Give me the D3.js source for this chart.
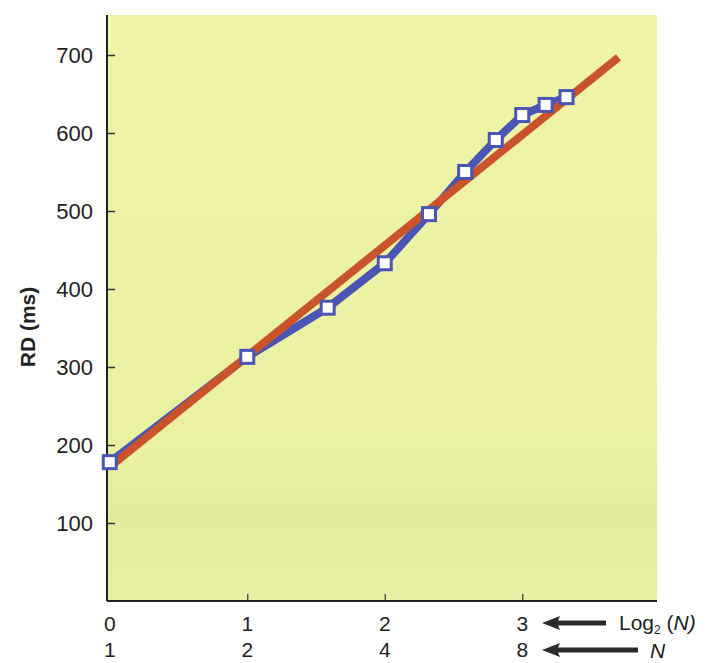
<!DOCTYPE html>
<html>
<head>
<meta charset="utf-8">
<script src="https://cdn.jsdelivr.net/npm/d3@7"></script>
<style>
  body { margin: 0; background: #fff; }
  text { font-family: "Liberation Sans", Arial, sans-serif; fill: #222; }
</style>
</head>
<body>
<svg id="chart" width="716" height="663"></svg>
<script>
// set sizes N and measured RD (ms)
const setSizes = [1, 2, 3, 4, 5, 6, 7, 8, 9, 10];
const rdValues = [178, 313, 376, 433, 496, 550, 591, 623, 636, 646];
// fitted line RD = a + b * log2(N), drawn between these log2 ends
const fitEnds = [0, 3.7];
const fitValues = [172, 697];
const logTicks = [0, 1, 2, 3];
const nTicks = [1, 2, 4, 8];
const yTicks = [100, 200, 300, 400, 500, 600, 700];

const svg = d3.select("#chart"),
    plotLeft = 107, plotRight = 657, plotTop = 15, plotBottom = 601;

const x = d3.scaleLinear().domain([-0.02, 3.98]).range([plotLeft, plotRight]);
const y = d3.scaleLinear().domain([0, 750]).range([plotBottom, plotTop + 1]);

// yellow panel
const grad = svg.append("defs").append("linearGradient")
    .attr("id", "bg").attr("x1", 0).attr("y1", 0).attr("x2", 0).attr("y2", 1);
grad.append("stop").attr("offset", "0%").attr("stop-color", "#eff4a8");
grad.append("stop").attr("offset", "75%").attr("stop-color", "#eaf0a2");
grad.append("stop").attr("offset", "85%").attr("stop-color", "#e4eb9c");
grad.append("stop").attr("offset", "100%").attr("stop-color", "#e9efa3");

svg.append("rect")
    .attr("x", plotLeft).attr("y", plotTop)
    .attr("width", plotRight - plotLeft).attr("height", plotBottom - plotTop)
    .attr("fill", "url(#bg)");

// axes
const yAxis = svg.append("g")
    .attr("transform", "translate(" + plotLeft + ",0)")
    .call(d3.axisRight(y).tickValues(yTicks).tickSize(8).tickFormat(""));
yAxis.select(".domain").remove();
yAxis.selectAll("line").attr("stroke", "#333").attr("stroke-width", 1.5);

svg.append("line")
    .attr("x1", plotLeft).attr("x2", plotLeft).attr("y1", plotTop).attr("y2", plotBottom)
    .attr("stroke", "#222").attr("stroke-width", 2);

svg.selectAll(".ylab")
    .data(yTicks)
    .enter()
    .append("text")
    .attr("class", "ylab")
    .attr("x", 93)
    .attr("y", function (d) { return y(d); })
    .attr("dy", "0.36em")
    .attr("text-anchor", "end")
    .attr("font-size", 22)
    .text(function (d) { return d; });

const xAxis = svg.append("g")
    .attr("transform", "translate(0," + plotBottom + ")")
    .call(d3.axisTop(x).tickValues(logTicks.slice(1)).tickSize(7).tickFormat(""));
xAxis.select(".domain").remove();
xAxis.selectAll("line").attr("stroke", "#333").attr("stroke-width", 1.2);

svg.append("line")
    .attr("x1", plotLeft).attr("x2", plotRight).attr("y1", plotBottom).attr("y2", plotBottom)
    .attr("stroke", "#222").attr("stroke-width", 2);

svg.selectAll(".xlog")
    .data(logTicks)
    .enter()
    .append("text")
    .attr("x", function (d) { return x(d); })
    .attr("y", 631)
    .attr("text-anchor", "middle")
    .attr("font-size", 21)
    .text(function (d) { return d; });

svg.selectAll(".xn")
    .data(nTicks)
    .enter()
    .append("text")
    .attr("x", function (d) { return x(Math.log2(d)); })
    .attr("y", 657)
    .attr("text-anchor", "middle")
    .attr("font-size", 21)
    .text(function (d) { return d; });

// arrows pointing to the tick rows
function arrow(x0, x1, yy) {
    svg.append("line")
        .attr("x1", x0 + 12).attr("x2", x1).attr("y1", yy).attr("y2", yy)
        .attr("stroke", "#2a2a2a").attr("stroke-width", 5);
    svg.append("path")
        .attr("d", "M" + x0 + "," + yy + "L" + (x0 + 18) + "," + (yy - 7) +
            "L" + (x0 + 15) + "," + yy + "L" + (x0 + 18) + "," + (yy + 7) + "Z")
        .attr("fill", "#2a2a2a");
}
arrow(542, 606, 623);
arrow(542, 638, 650);

const logLabel = svg.append("text")
    .attr("x", 619).attr("y", 630).attr("font-size", 21);
logLabel.append("tspan").text("Log");
logLabel.append("tspan").attr("font-size", 12).attr("dy", 4).text("2");
logLabel.append("tspan").attr("dy", -4).text(" (");
logLabel.append("tspan").attr("font-style", "italic").text("N)");

svg.append("text")
    .attr("x", 650).attr("y", 658)
    .attr("font-size", 21)
    .attr("font-style", "italic")
    .text("N");

svg.append("text")
    .attr("transform", "translate(35,327) rotate(-90)")
    .attr("text-anchor", "middle")
    .attr("font-size", 21)
    .attr("font-weight", "bold")
    .text("RD (ms)");

// data line
const points = setSizes.map(function (n, i) {
    return { lx: Math.log2(n), rd: rdValues[i] };
});

const line = d3.line()
    .x(function (d) { return x(d.lx); })
    .y(function (d) { return y(d.rd); });

svg.append("path")
    .datum(points)
    .attr("d", line)
    .attr("fill", "none")
    .attr("stroke", "#4a55b4")
    .attr("stroke-width", 8)
    .attr("stroke-linejoin", "round");

svg.append("line")
    .attr("x1", x(fitEnds[0])).attr("y1", y(fitValues[0]))
    .attr("x2", x(fitEnds[1])).attr("y2", y(fitValues[1]))
    .attr("stroke", "#c9542b")
    .attr("stroke-width", 8);

svg.selectAll(".marker")
    .data(points)
    .enter()
    .append("rect")
    .attr("x", function (d) { return x(d.lx) - 6.5; })
    .attr("y", function (d) { return y(d.rd) - 6.5; })
    .attr("width", 13)
    .attr("height", 13)
    .attr("fill", "#fff")
    .attr("stroke", "#4a55b4")
    .attr("stroke-width", 3);
</script>
</body>
</html>
